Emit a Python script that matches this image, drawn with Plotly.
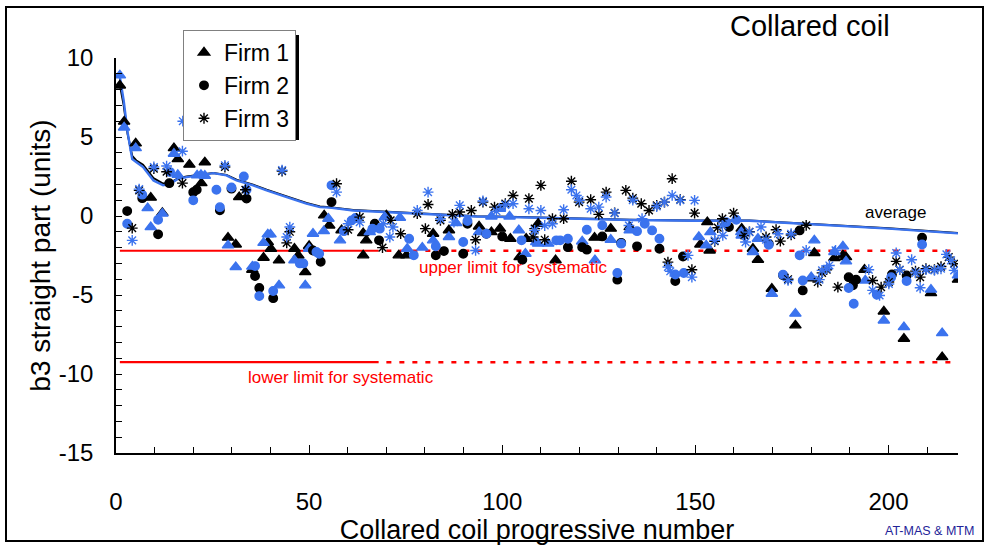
import plotly.graph_objects as go

# ---- Firm 1 (triangles): black and blue measurement sets ----
f1_k_x = [1, 2.1, 5.1, 9.0, 12, 15, 16, 19, 22.1, 23, 29, 31, 31.9, 35.3, 38.2, 39.3, 40.1, 42.2,
          46.2, 47.2, 49, 50, 53.9, 55.2, 58.4, 64, 64.8, 64, 70, 73.2, 75.2, 82.1, 86.2, 94, 97.2,
          99.4, 102.1, 104.5, 106.2, 109.3, 113.8, 123.9, 128.1, 133, 151.3, 153.1, 153.7, 162,
          164.9, 166.2, 169.8, 175.9, 180.8, 180, 186, 188.2, 189, 193.8, 198.8, 204, 211, 213.9, 218]
f1_k_y = [8.26, 5.97, 4.6, 1.16, 0.2, 4.3, 3.6, 3.25, 2.08, 3.4, -1.37, -1.8, 1.2, -3.4, -2.64, -1.65,
          -2.07, -2.81, -2.07, -2.5, -3.55, -1.9, 0.04, -0.6, -0.9, -1.08, -1.54, -2.49, 0.04, -2.49,
          -2.49, -1.12, -0.9, -0.66, -1.02, -0.8, -1.44, -2.6, -1.44, -0.49, -2.8, -1.37, -0.8, -0.7,
          -1.8, -0.39, -2.18, -0.8, -2.07, -2.77, -4.6, -6.92, -2.34, -3.95, -2.66, -2.49, -2.6, -3.4,
          -6.04, -7.77, -4.88, -8.93, -4.03]
f1_b_x = [1, 2.1, 5.1, 8.2, 9.0, 12, 15, 16, 21, 22, 23, 29, 31, 35.3, 38.2, 39.3, 40, 42.2, 46.2,
          49, 50, 51, 53.8, 55, 58, 65.7, 69.6, 73.5, 75.4, 79.3, 82.1, 86.2, 88.1, 94, 97.2, 99.4,
          101.9, 104.3, 106, 108.8, 109.3, 111.9, 120.7, 124, 128.1, 133, 150.9, 152.8, 153.9, 162,
          161.9, 164.9, 166.2, 169.8, 175.9, 180.8, 180, 186, 188.2, 189, 194, 198.8, 204, 211, 213.9, 218]
f1_b_y = [8.9, 5.6, 4.3, 0.5, -0.7, 0.15, 3.94, 2.6, 2.57, 2.6, 2.55, -1.86, -3.23, -3.2, -1.7, -1.16,
          -1.16, -4.39, -2.8, -4.39, -2.07, -1.12, -0.96, -0.17, -1.54, -1.02, -0.07, -0.11, -2.07,
          -2.0, -1.54, -1.33, -0.45, -1.02, -0.03, 0.46, -0.03, -0.9, -2.39, -1.65, -1.75, -1.75,
          -1.61, -2.8, -1.5, -0.91, -1.33, -1.86, -1.02, -1.23, -1.02, -2.28, -1.44, -4.92, -6.18,
          -1.54, -3.87, -2.28, -1.92, -2.87, -4.08, -6.61, -7.03, -4.66, -7.41, -3.76]

# ---- Firm 2 (circles) ----
f2_k_x = [2.9, 6.8, 10.9, 13.8, 20, 20.9, 26.9, 29.9, 33.8, 36, 37.1, 40.7, 51, 53, 55.8, 67, 68.1,
          82.8, 84.9, 89.9, 91, 95.9, 100, 105.2, 117, 120.7, 121.9, 125.9, 129.8, 130.8, 134.9,
          140.7, 144.8, 146.8, 158.7, 169, 172.7, 177, 177.8, 189.7, 190.8, 191.6, 200.9, 204.7, 208.7]
f2_k_y = [0.31, 1.13, -1.16, 2.08, 1.5, 1.66, 0.36, 1.73, 1.1, -3.8, -4.56, -5.2, -2.18, -2.9, 0.88,
          -0.49, -1.54, -2.49, -2.22, -2.39, -0.49, -1.12, -1.29, -2.77, -1.97, -1.97, -2.13, -1.29,
          -4.03, -1.7, -1.92, -2.07, -4.12, -2.56, -0.7, -1.75, -3.75, -0.91, -4.71, -3.87, -4.39,
          -4.03, -3.7, -3.76, -1.37]
f2_b_x = [2.9, 6.8, 10.9, 14, 20, 26, 26.9, 29.9, 33.1, 33.8, 36, 37.1, 40.7, 47.6, 48.5, 51.9,
          52.6, 55.8, 59, 61, 62, 66.4, 68.3, 75.9, 77.1, 82.8, 89.9, 91, 95.9, 105, 114, 115, 117,
          121.9, 125.9, 129.8, 130.8, 134.9, 136.9, 138.8, 140.7, 144.8, 147, 158, 160.6, 169,
          172.7, 177, 177.8, 189.7, 191, 197, 200.7, 204.7, 208.7]
f2_b_y = [-0.49, 1.35, -0.24, 2.78, 0.99, 1.66, 0.56, 1.8, 2.5, 1.66, -3.17, -5.07, -4.75, -3.0, -3.0,
          -2.28, -2.39, 1.94, -0.96, -0.28, -0.13, -0.8, -0.8, -1.44, -2.49, -1.92, -1.65, -0.32,
          -1.12, -1.54, -1.54, -1.54, -1.44, -0.87, -0.59, -3.61, -1.75, -0.96, -0.49, -0.91, -1.44,
          -3.7, -3.61, -0.39, -0.24, -1.82, -3.72, -2.49, -4.08, -4.56, -5.55, -4.98, -3.87, -4.12, -1.8]

# ---- Firm 3 (asterisks) ----
f3_k_x = [4.2, 6.0, 9.8, 13.1, 17.2, 28.2, 33.5, 43, 44.2, 45, 57.1, 60.1, 63.1, 69, 71.1, 73.7, 78,
          80.8, 80.1, 84, 87.1, 89, 92, 93.1, 95, 98, 100.8, 102.8, 106.9, 108.4, 108, 110, 111, 113,
          115.9, 117.9, 119.9, 122.9, 125, 126.9, 129.1, 132, 133.8, 136, 138, 140, 142, 142.9, 144,
          146.1, 149.1, 149.8, 155, 155.8, 157, 159.9, 162.7, 164, 168.3, 170.9, 172, 174.8, 174,
          178.7, 181.7, 182.8, 184, 186.9, 195.9, 198.1, 200.1, 202, 202.9, 207, 208.2, 209.7, 211.9,
          213.6, 215.6, 217]
f3_k_y = [-0.77, 1.62, 3.0, 2.8, 2.08, 3.1, 1.66, 2.84, -1.7, -1.0, 2.04, -0.87, -0.07, -2.0, -0.28,
          -1.12, 0.15, 0.73, -0.8, -0.28, 0.1, 0.25, 0.35, -1.5, 0.88, 0.56, 0.78, 1.3, 1.1, -0.8,
          -1.33, 1.94, -1.5, -0.17, -0.17, 2.2, 0.88, 1.03, 0.1, 1.51, 0.2, 1.62, 1.13, 0.78, 0.35,
          0.67, 0.88, -2.92, 2.36, 1.03, -3.4, 0.18, -1.6, -0.74, -0.17, 0.18, -1.23, -1.0, -1.33,
          -0.87, -1.59, -1.2, -4.0, -0.59, -4.18, -3.6, -3.4, -4.5, -4.08, -4.5, -4.18, -2.87, -3.4,
          -3.49, -3.87, -3.34, -3.4, -3.2, -2.6, -3.02]
f3_b_x = [4.2, 6.0, 9.8, 13.1, 17.2, 17.3, 24, 28.2, 43, 44.2, 45, 57.1, 60.1, 63.1, 69.2, 70.9, 71.7,
          78, 80.8, 84, 87.5, 89, 93.1, 95, 98.5, 100.8, 102.8, 106.9, 108.4, 110, 111, 113, 115.9,
          117.9, 119.2, 120, 122.9, 125, 126.9, 129.1, 132.8, 133.8, 136.2, 140, 142, 142.9, 143.5,
          144, 146.1, 148.1, 149.1, 149.8, 155, 157, 157.1, 163, 164, 167, 168.3, 171.4, 174.8, 174,
          178.7, 182.1, 182.8, 184, 184.7, 186.3, 194.9, 195.9, 197.7, 200.1, 202, 202.9, 206, 207,
          208.2, 209.7, 211.9, 213.6, 215, 216.2, 217]
f3_b_y = [-1.54, 1.7, 3.1, 3.16, 4.1, 6.0, 5.2, 3.2, 2.9, -1.33, -0.7, 1.51, -0.49, -0.39, -0.49,
          -1.33, -0.7, 0.35, 1.51, -0.17, -0.39, 0.67, -2.18, 0.95, 0.3, 0.7, 0.78, 0.46, -0.91, 0.35,
          -0.6, -0.49, 0.4, 1.66, 1.3, 1.0, 0.46, 0.56, 1.2, 0.18, -0.6, 1.0, -0.17, 0.6, 0.88, -3.23,
          -3.5, 1.3, 1.0, -2.49, -3.87, 0.99, -1.54, -0.6, -1.23, -1.65, -1.02, -0.7, -1.5, -1.12,
          -1.12, -4.08, -2.18, -4.03, -3.44, -3.34, -3.13, -2.18, -3.4, -4.71, -5.03, -4.3, -2.34,
          -3.4, -2.77, -3.6, -4.54, -3.4, -3.44, -3.34, -2.43, -2.81, -3.44]

# ---- running average ----
avg_x = [1, 2, 3, 4.2, 5.3, 7, 9.7, 12.2, 14, 16.1, 18.3, 20.9, 25.2, 28.6, 31.2, 35.5, 39, 44.2,
         49.3, 52.8, 55.4, 61.4, 70, 77, 85.5, 93.3, 109.7, 133, 150, 164, 177.8, 200, 218]
avg_black = [8.3, 7.0, 5.2, 3.8, 3.5, 3.25, 2.4, 2.05, 2.1, 2.4, 2.5, 2.6, 2.72, 2.6, 2.3, 1.98, 1.66,
             1.24, 0.82, 0.6, 0.56, 0.38, 0.28, 0.18, 0.07, -0.01, -0.09, -0.23, -0.28, -0.28, -0.47,
             -0.78, -1.08]
avg_blue = [8.8, 7.3, 5.3, 3.6, 3.4, 3.1, 2.25, 1.94, 2.04, 2.36, 2.46, 2.57, 2.71, 2.57, 2.25, 1.94,
            1.62, 1.2, 0.78, 0.56, 0.53, 0.35, 0.25, 0.15, 0.04, -0.03, -0.11, -0.25, -0.3, -0.3,
            -0.49, -0.8, -1.1]

# ---- limits for systematic ----
upper_limit = -2.2
lower_limit = -9.25
limit_solid_x = [1, 68]
limit_dash_x = [70, 217]

# ---- axis ticks ----
x_ticks = [0, 50, 100, 150, 200]
y_ticks = [10, 5, 0, -5, -10, -15]
y_tick_labels = ["10", "5", "0", "-5", "-10", "-15"]

BLUE = "#3b73ee"
RED = "#ff0000"
FONT = "Liberation Sans, Arial, sans-serif"

fig = go.Figure()

# limit lines
for lvl in (upper_limit, lower_limit):
    fig.add_trace(go.Scatter(x=limit_solid_x, y=[lvl, lvl], mode="lines",
                             line=dict(color=RED, width=2.2), showlegend=False, hoverinfo="skip"))
    fig.add_trace(go.Scatter(x=limit_dash_x, y=[lvl, lvl], mode="lines",
                             line=dict(color=RED, width=2.5, dash="5px,8px"),
                             showlegend=False, hoverinfo="skip"))

# average curves
fig.add_trace(go.Scatter(x=avg_x, y=avg_black, mode="lines", line=dict(color="black", width=2),
                         showlegend=False))
fig.add_trace(go.Scatter(x=avg_x, y=avg_blue, mode="lines", line=dict(color=BLUE, width=2.4),
                         showlegend=False))

series = [
    ("Firm 1", "triangle-up", 10, f1_k_x, f1_k_y, f1_b_x, f1_b_y),
    ("Firm 2", "circle", 8.5, f2_k_x, f2_k_y, f2_b_x, f2_b_y),
    ("Firm 3", "asterisk-open", 9, f3_k_x, f3_k_y, f3_b_x, f3_b_y),
]
for name, sym, size, kx, ky, bx, by in series:
    fig.add_trace(go.Scatter(
        x=kx, y=ky, mode="markers", name=name, legendgroup=name,
        marker=dict(symbol=sym, size=size, color="black", line=dict(color="black", width=1.4)),
    ))
    fig.add_trace(go.Scatter(
        x=bx, y=by, mode="markers", name=name, legendgroup=name, showlegend=False,
        marker=dict(symbol=sym, size=size, color=BLUE, line=dict(color=BLUE, width=1.4)),
    ))

axis_common = dict(showline=True, linecolor="black", linewidth=1.5, showgrid=False, zeroline=False,
                   ticks="inside", tickcolor="black", tickfont=dict(family=FONT, size=24, color="black"))

fig.update_xaxes(range=[0, 218], tickvals=x_ticks, ticklen=8, tickwidth=1,
                 minor=dict(dtick=10, tick0=0, ticks="inside", ticklen=6, tickcolor="black"),
                 ticklabelstandoff=26,
                 title=dict(text="Collared coil progressive number",
                            font=dict(family=FONT, size=27, color="black"), standoff=0),
                 **axis_common)
fig.update_yaxes(range=[-15, 10], tickvals=y_ticks, ticktext=y_tick_labels, ticklen=6, tickwidth=1,
                 minor=dict(dtick=1, tick0=0, ticks="inside", ticklen=6, tickcolor="black"),
                 ticklabelstandoff=16,
                 title=dict(text="b3 straight part (units)",
                            font=dict(family=FONT, size=28, color="black"), standoff=0),
                 **axis_common)

annotations = [
    dict(text="Collared coil", x=810, y=26, font=dict(size=29)),
    dict(text="average", x=895, y=212, font=dict(size=17)),
    dict(text="upper limit for systematic", x=513, y=267, font=dict(size=17, color=RED)),
    dict(text="lower limit for systematic", x=341, y=377, font=dict(size=17, color=RED)),
    dict(text="AT-MAS &amp; MTM", x=929, y=531, font=dict(size=12.5, color="#232398")),
]
W, H, L, R, T, B = 989, 549, 116, 31, 58, 96
pw, ph = W - L - R, H - T - B


def px_x(p):
    return (p - L) / pw


def px_y(p):
    return (H - B - p) / ph


for a in annotations:
    f = dict(family=FONT, color="black")
    f.update(a["font"])
    fig.add_annotation(text=a["text"], x=px_x(a["x"]), y=px_y(a["y"]), xref="paper", yref="paper",
                       showarrow=False, xanchor="center", yanchor="middle", font=f)

# legend drop shadow and slide frame
fig.add_shape(type="rect", xref="paper", yref="paper", x0=px_x(188), x1=px_x(299), y0=px_y(140),
              y1=px_y(35), fillcolor="black", line=dict(width=0), layer="above")
fig.add_shape(type="rect", xref="paper", yref="paper", x0=px_x(6), x1=px_x(983), y0=px_y(541),
              y1=px_y(7), line=dict(color="black", width=2), layer="below")

fig.update_layout(
    width=W, height=H, margin=dict(l=L, r=R, t=T, b=B),
    paper_bgcolor="white", plot_bgcolor="white",
    font=dict(family=FONT, color="black"),
    legend=dict(x=px_x(183), y=px_y(30), xanchor="left", yanchor="top",
                bgcolor="white", bordercolor="#808080", borderwidth=1,
                font=dict(family=FONT, size=23, color="black"), tracegroupgap=0),
)

fig.write_html("out.html")
